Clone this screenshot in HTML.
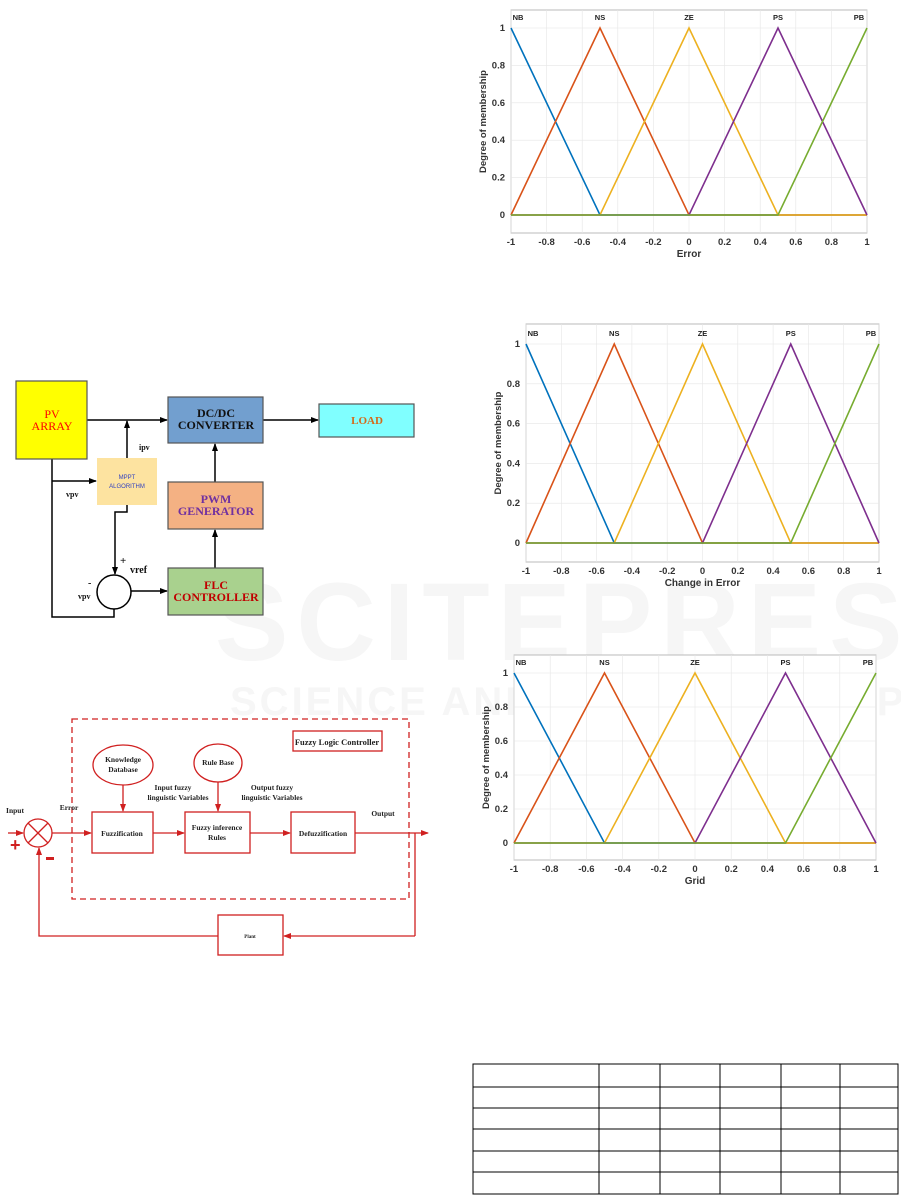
<!DOCTYPE html>
<html><head><meta charset="utf-8"><style>
html,body{margin:0;padding:0;background:#fff;}
svg{display:block;font-family:"Liberation Serif",serif;}
.c text{font-family:"Liberation Sans",sans-serif;}
</style></head><body>
<svg id="s" width="901" height="1195" xmlns="http://www.w3.org/2000/svg">
<defs>
<marker id="ab" markerWidth="8" markerHeight="8" refX="7" refY="4" orient="auto" markerUnits="userSpaceOnUse"><path d="M0,1 L8,4 L0,7z" fill="#000"/></marker>
<marker id="ar" markerWidth="8" markerHeight="8" refX="7" refY="4" orient="auto" markerUnits="userSpaceOnUse"><path d="M0,1 L8,4 L0,7z" fill="#d02020"/></marker>
</defs>
<!-- watermark -->
<g fill="#f6f6f6" font-family="Liberation Sans,sans-serif" font-weight="bold">
<text x="215" y="660" font-size="110" letter-spacing="8">SCITEPRESS</text>
<text x="230" y="715" font-size="40" letter-spacing="3">SCIENCE AND TECHNOLOGY PUBLICATIONS</text>
</g>

<!-- Block diagram -->
<g stroke="#000" stroke-width="1.5" fill="none">
<line x1="87" y1="420" x2="167" y2="420" marker-end="url(#ab)"/>
<line x1="127" y1="458" x2="127" y2="421" marker-end="url(#ab)"/>
<polyline points="52,459 52,617 114,617 114,609"/>
<line x1="52" y1="481" x2="96" y2="481" marker-end="url(#ab)"/>
<polyline points="127,505 127,512 115,512 115,574" marker-end="url(#ab)"/>
<line x1="131" y1="591" x2="167" y2="591" marker-end="url(#ab)"/>
<line x1="215" y1="568" x2="215" y2="530" marker-end="url(#ab)"/>
<line x1="215" y1="482" x2="215" y2="444" marker-end="url(#ab)"/>
<line x1="263" y1="420" x2="318" y2="420" marker-end="url(#ab)"/>
</g>
<rect x="16" y="381" width="71" height="78" fill="#ffff00" stroke="#555" stroke-width="1.2"/>
<rect x="168" y="397" width="95" height="46" fill="#729fcf" stroke="#555" stroke-width="1.2"/>
<rect x="319" y="404" width="95" height="33" fill="#80ffff" stroke="#555" stroke-width="1.2"/>
<rect x="97" y="458" width="60" height="47" fill="#fde3a0"/>
<rect x="168" y="482" width="95" height="47" fill="#f4b183" stroke="#555" stroke-width="1.2"/>
<rect x="168" y="568" width="95" height="47" fill="#a9d18e" stroke="#555" stroke-width="1.2"/>
<circle cx="114" cy="592" r="17" fill="#fff" stroke="#000" stroke-width="1.5"/>
<g text-anchor="middle" font-size="12">
<text x="52" y="418" fill="#f00">PV</text><text x="52" y="430" fill="#f00">ARRAY</text>
<text x="216" y="417" font-weight="bold" fill="#111">DC/DC</text><text x="216" y="429" font-weight="bold" fill="#111">CONVERTER</text>
<text x="367" y="424" font-weight="bold" fill="#d46a1a" font-size="11">LOAD</text>
<text x="216" y="503" font-weight="bold" fill="#7030a0">PWM</text><text x="216" y="515" font-weight="bold" fill="#7030a0">GENERATOR</text>
<text x="216" y="589" font-weight="bold" fill="#c00000" font-size="12">FLC</text><text x="216" y="601" font-weight="bold" fill="#c00000" font-size="12">CONTROLLER</text>
<g font-family="Liberation Sans,sans-serif" font-size="6" fill="#3040c0"><text x="127" y="479">MPPT</text><text x="127" y="488">ALGORITHM</text></g>
</g>
<g font-size="8" font-weight="bold" fill="#111">
<text x="139" y="450">ipv</text><text x="66" y="497">vpv</text><text x="120" y="564" font-size="11">+</text><text x="130" y="573" font-size="10">vref</text>
<text x="88" y="586" font-size="10">-</text><text x="78" y="599">vpv</text>
</g>

<!-- Fuzzy diagram -->
<g stroke="#d02020" stroke-width="1.3" fill="none">
<rect x="72" y="719" width="337" height="180" stroke-dasharray="6,4"/>
<rect x="293" y="731" width="89" height="20"/>
<ellipse cx="123" cy="765" rx="30" ry="20"/>
<ellipse cx="218" cy="763" rx="24" ry="19"/>
<rect x="92" y="812" width="61" height="41"/>
<rect x="185" y="812" width="65" height="41"/>
<rect x="291" y="812" width="64" height="41"/>
<circle cx="38" cy="833" r="14"/>
<line x1="28" y1="823" x2="48" y2="843"/><line x1="48" y1="823" x2="28" y2="843"/>
<line x1="8" y1="833" x2="23" y2="833" marker-end="url(#ar)"/>
<line x1="52" y1="833" x2="91" y2="833" marker-end="url(#ar)"/>
<line x1="153" y1="833" x2="184" y2="833" marker-end="url(#ar)"/>
<line x1="250" y1="833" x2="290" y2="833" marker-end="url(#ar)"/>
<line x1="355" y1="833" x2="428" y2="833" marker-end="url(#ar)"/>
<line x1="123" y1="785" x2="123" y2="811" marker-end="url(#ar)"/>
<line x1="218" y1="782" x2="218" y2="811" marker-end="url(#ar)"/>
<line x1="415" y1="833" x2="415" y2="936"/>
<line x1="415" y1="936" x2="284" y2="936" marker-end="url(#ar)"/>
<rect x="218" y="915" width="65" height="40"/>
<polyline points="218,936 39,936 39,848" marker-end="url(#ar)"/>
</g>
<g font-size="7.5" font-weight="bold" fill="#222" text-anchor="middle">
<text x="337" y="745" font-size="8.5">Fuzzy Logic Controller</text>
<text x="123" y="762">Knowledge</text><text x="123" y="772">Database</text>
<text x="218" y="765">Rule Base</text>
<text x="173" y="790">Input fuzzy</text><text x="178" y="800">linguistic Variables</text>
<text x="272" y="790">Output fuzzy</text><text x="272" y="800">linguistic Variables</text>
<text x="122" y="836">Fuzzification</text>
<text x="217" y="830">Fuzzy inference</text><text x="217" y="840">Rules</text>
<text x="323" y="836">Defuzzification</text>
<text x="15" y="813">Input</text><text x="69" y="810">Error</text><text x="383" y="816">Output</text>
<text x="250" y="938" font-size="5">Plant</text>
</g>
<text x="10" y="851" font-size="18" font-weight="bold" fill="#d02020" font-family="Liberation Sans,sans-serif">+</text>
<rect x="46" y="857" width="8" height="3" fill="#d02020"/>

<!-- Table -->
<g stroke="#000" stroke-width="1">
<rect x="473" y="1064" width="425" height="130" fill="none"/>
<line x1="473" y1="1087" x2="898" y2="1087"/><line x1="473" y1="1108" x2="898" y2="1108"/>
<line x1="473" y1="1129" x2="898" y2="1129"/><line x1="473" y1="1151" x2="898" y2="1151"/>
<line x1="473" y1="1172" x2="898" y2="1172"/>
<line x1="599" y1="1064" x2="599" y2="1194"/><line x1="660" y1="1064" x2="660" y2="1194"/>
<line x1="720" y1="1064" x2="720" y2="1194"/><line x1="781" y1="1064" x2="781" y2="1194"/>
<line x1="840" y1="1064" x2="840" y2="1194"/>
</g>
<g id="charts" class="c"></g>
</svg>
<script>
function chart(L,R,T,Y1,Y0,B,title){
 var s='',w=R-L,xs=function(v){return L+(v+1)/2*w;},ys=function(v){return Y0-(Y0-Y1)*v;};
 s+='<rect x="'+L+'" y="'+T+'" width="'+w+'" height="'+(B-T)+'" fill="#fff" stroke="#aaa" stroke-width="0.8"/>';
 for(var i=-5;i<=5;i++){var x=xs(i/5);s+='<line x1="'+x+'" y1="'+T+'" x2="'+x+'" y2="'+B+'" stroke="#e6e6e6" stroke-width="0.6"/>';
  s+='<text x="'+x+'" y="'+(B+12)+'" font-size="9.5" font-weight="bold" text-anchor="middle" fill="#333">'+(+(i/5).toFixed(1))+'</text>';}
 for(var j=0;j<=5;j++){var y=ys(j/5);s+='<line x1="'+L+'" y1="'+y+'" x2="'+R+'" y2="'+y+'" stroke="#e6e6e6" stroke-width="0.6"/>';
  s+='<text x="'+(L-6)+'" y="'+(y+3)+'" font-size="9.5" font-weight="bold" text-anchor="end" fill="#333">'+(+(j/5).toFixed(1))+'</text>';}
 s+='<text x="'+(L+w/2)+'" y="'+(B+24)+'" font-size="10" font-weight="bold" text-anchor="middle" fill="#333">'+title+'</text>';
 s+='<text transform="translate('+(L-25)+','+((T+B)/2)+') rotate(-90)" font-size="9.5" font-weight="bold" text-anchor="middle" fill="#333">Degree of membership</text>';
 var cs=['#0072bd','#d95319','#edb120','#7e2f8e','#77ac30'],nm=['NB','NS','ZE','PS','PB'];
 var P=function(a){return a.map(function(p){return xs(p[0])+','+ys(p[1]);}).join(' ');};
 var sets=[[[-1,1],[-0.5,0],[1,0]],[[-1,0],[-0.5,1],[0,0],[1,0]],[[-1,0],[-0.5,0],[0,1],[0.5,0],[1,0]],[[-1,0],[0,0],[0.5,1],[1,0]],[[-1,0],[0.5,0],[1,1]]];
 for(var k=0;k<5;k++){s+='<polyline points="'+P(sets[k])+'" fill="none" stroke="'+cs[k]+'" stroke-width="1.6"/>';
  var lx=xs(-1+k*0.5);s+='<text x="'+(k==0?lx+7:k==4?lx-8:lx)+'" y="'+(Y1-8)+'" font-size="7.5" font-weight="bold" text-anchor="middle" fill="#222">'+nm[k]+'</text>';}
 return s;
}
document.getElementById('charts').innerHTML=chart(511,867,10,28,215,233,'Error')+chart(526,879,324,344,543,562,'Change in Error')+chart(514,876,655,673,843,860,'Grid');
</script>
</body></html>
